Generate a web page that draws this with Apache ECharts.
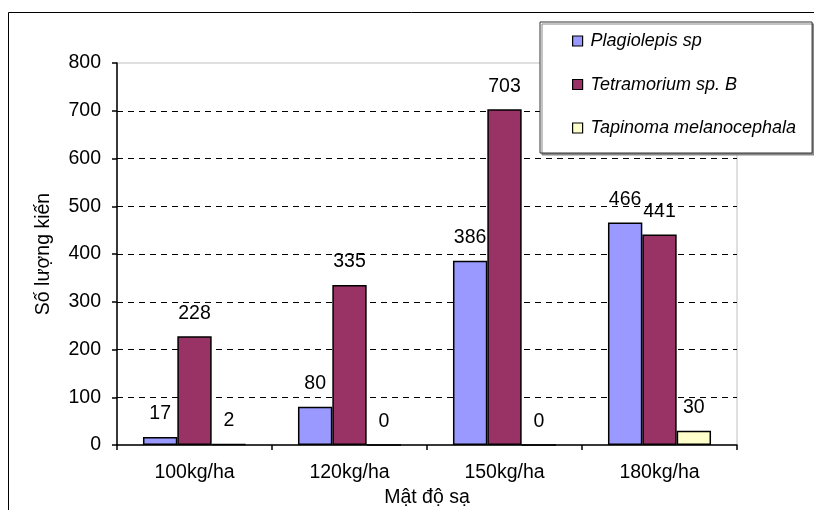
<!DOCTYPE html>
<html>
<head>
<meta charset="utf-8">
<script src="https://cdn.jsdelivr.net/npm/echarts@6/dist/echarts.min.js"></script>
<style>
  html, body { margin: 0; padding: 0; background: #fff; }
  #chart { width: 814px; height: 510px; }
</style>
</head>
<body>
<div id="chart"></div>
<script>
// Ant counts per sowing density
const categories = ['100kg/ha', '120kg/ha', '150kg/ha', '180kg/ha'];
const plagiolepis = [17, 80, 386, 466];
const tetramorium = [228, 335, 703, 441];
const tapinoma = [2, 0, 0, 30];
const seriesNames = ['Plagiolepis sp', 'Tetramorium sp. B', 'Tapinoma melanocephala'];
const seriesColors = ['#9999FF', '#993366', '#FFFFCC'];
const yTicks = { min: 0, max: 800, step: 100 };

const FONT = '"Liberation Sans", Arial, sans-serif';
const FS = 19.5;

const chart = echarts.init(document.getElementById('chart'), null, { renderer: 'canvas' });

function barSeries(name, values, color) {
  return {
    name: name,
    type: 'bar',
    data: values,
    barGap: '0%',
    barCategoryGap: '33.5%',
    itemStyle: { color: color, borderColor: '#000', borderWidth: 1.5 },
    label: {
      show: true,
      position: 'top',
      distance: 13,
      color: '#000',
      fontFamily: FONT,
      fontSize: FS
    }
  };
}

// split lines: hide the one under the x axis and the top one (drawn as grey frame instead)
const splitColors = [];
for (let v = yTicks.min; v <= yTicks.max; v += yTicks.step) {
  splitColors.push(v === yTicks.min || v === yTicks.max ? 'rgba(0,0,0,0)' : '#000');
}

chart.setOption({
  animation: false,
  backgroundColor: '#fff',
  textStyle: { fontFamily: FONT },
  grid: {
    left: 117, top: 63, right: 77, bottom: 65,
    containLabel: false,
    outerBoundsMode: 'none',
    show: true,
    borderColor: '#c0c0c0',
    borderWidth: 1,
    backgroundColor: 'rgba(0,0,0,0)'
  },
  legend: {
    orient: 'vertical',
    left: 540,
    top: 22,
    padding: [10, 16, 16, 32],
    itemGap: 25.5,
    itemWidth: 10,
    itemHeight: 10,
    icon: 'rect',
    backgroundColor: '#fff',
    borderColor: '#333',
    borderWidth: 1,
    shadowColor: '#888',
    shadowBlur: 0,
    shadowOffsetX: 2,
    shadowOffsetY: 2,
    itemStyle: { borderColor: '#000', borderWidth: 1.2 },
    textStyle: {
      fontFamily: FONT,
      fontSize: 18,
      fontStyle: 'italic',
      color: '#000',
      lineHeight: 18,
      padding: [0, 0, 0, 3]
    },
    data: seriesNames
  },
  xAxis: {
    type: 'category',
    data: categories,
    name: 'Mật độ sạ',
    nameLocation: 'middle',
    nameGap: 40,
    nameTextStyle: { fontFamily: FONT, fontSize: FS, color: '#000' },
    axisLine: { lineStyle: { color: '#000', width: 1.5 } },
    axisTick: { show: true, length: 5, lineStyle: { color: '#000', width: 1.5 } },
    axisLabel: { fontFamily: FONT, fontSize: FS, color: '#000', margin: 18 }
  },
  yAxis: {
    type: 'value',
    min: yTicks.min,
    max: yTicks.max,
    interval: yTicks.step,
    name: 'Số lượng kiến',
    nameLocation: 'middle',
    nameGap: 63,
    nameTextStyle: { fontFamily: FONT, fontSize: FS, color: '#000' },
    axisLine: { show: true, lineStyle: { color: '#000', width: 1.5 } },
    axisTick: { show: true, length: 5, lineStyle: { color: '#000', width: 1.5 } },
    axisLabel: { fontFamily: FONT, fontSize: FS, color: '#000', margin: 16 },
    splitLine: {
      show: true,
      lineStyle: { color: splitColors, type: [6, 5], width: 1 }
    }
  },
  graphic: [{
    type: 'rect',
    silent: true,
    z: -10,
    shape: { x: 8.5, y: 12.5, width: 900, height: 600 },
    style: { fill: 'none', stroke: '#000', lineWidth: 1 }
  }],
  series: [
    barSeries(seriesNames[0], plagiolepis, seriesColors[0]),
    barSeries(seriesNames[1], tetramorium, seriesColors[1]),
    barSeries(seriesNames[2], tapinoma, seriesColors[2])
  ]
});
</script>
</body>
</html>
